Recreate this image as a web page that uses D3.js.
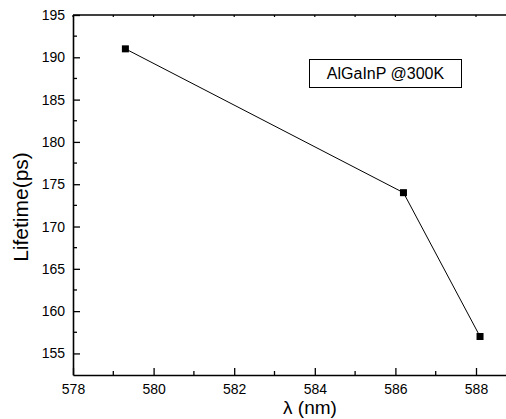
<!DOCTYPE html>
<html>
<head>
<meta charset="utf-8">
<script src="https://cdn.jsdelivr.net/npm/d3@7"></script>
<style>
  body { margin: 0; background: #fff; overflow: hidden; }
  svg { display: block; overflow: hidden; font-family: "Liberation Sans", Arial, sans-serif; }
</style>
</head>
<body>
<div id="chart"></div>
<script>
// data
const wavelength = [579.3, 586.2, 588.1];
const lifetime = [191, 174, 157];
const xTicks = [578, 580, 582, 584, 586, 588];
const yTicks = [155, 160, 165, 170, 175, 180, 185, 190, 195];
const legendText = 'AlGaInP @300K';

let drawChart = function () {
    const w = 506, h = 419;
    const left = 73, top = 15, bottom = 375;

    const svg = d3.select('#chart').append('svg')
        .attr('width', w)
        .attr('height', h);

    // the right edge of the frame lies just past the window
    const x = d3.scaleLinear().domain([578, 589]).range([left, left + 11 * 40.3]);
    const y = d3.scaleLinear().domain([152.45, 195]).range([bottom, top]);

    const minorX = d3.range(578, 589, 1);
    const minorY = d3.range(152.5, 195.1, 2.5);

    // bottom axis
    const xAxis = svg.append('g')
        .attr('transform', `translate(0,${bottom})`)
        .call(d3.axisBottom(x).tickValues(xTicks).tickFormat(d3.format('d'))
            .tickSizeInner(-7).tickSizeOuter(0).tickPadding(9));
    xAxis.select('.domain').attr('stroke-width', 1.6);
    xAxis.selectAll('.tick line').attr('stroke-width', 1.3);
    xAxis.selectAll('text').attr('font-size', 14).attr('fill', '#000');

    svg.append('g')
        .selectAll('line')
        .data(minorX.filter(v => !xTicks.includes(v)))
        .enter()
        .append('line')
        .attr('x1', d => x(d)).attr('x2', d => x(d))
        .attr('y1', bottom).attr('y2', bottom - 4)
        .attr('stroke', '#000').attr('stroke-width', 1.3);

    // top mirror axis
    svg.append('line')
        .attr('x1', left).attr('x2', w)
        .attr('y1', top).attr('y2', top)
        .attr('stroke', '#000').attr('stroke-width', 1.6);
    svg.append('g')
        .selectAll('line')
        .data(minorX)
        .enter()
        .append('line')
        .attr('x1', d => x(d)).attr('x2', d => x(d))
        .attr('y1', top).attr('y2', top + 2)
        .attr('stroke', '#000').attr('stroke-width', 1.2);

    // left axis
    const yAxis = svg.append('g')
        .attr('transform', `translate(${left},0)`)
        .call(d3.axisLeft(y).tickValues(yTicks).tickFormat(d3.format('d'))
            .tickSizeInner(-7).tickSizeOuter(0).tickPadding(8));
    yAxis.select('.domain').attr('stroke-width', 1.6);
    yAxis.selectAll('.tick line').attr('stroke-width', 1.3);
    yAxis.selectAll('text').attr('font-size', 14).attr('fill', '#000');

    svg.append('g')
        .selectAll('line')
        .data(minorY.filter(v => !yTicks.includes(v) && v > 153))
        .enter()
        .append('line')
        .attr('x1', left).attr('x2', left + 4)
        .attr('y1', d => y(d)).attr('y2', d => y(d))
        .attr('stroke', '#000').attr('stroke-width', 1.3);

    // series line and markers
    const pts = wavelength.map((v, i) => [v, lifetime[i]]);
    svg.append('path')
        .datum(pts)
        .attr('d', d3.line().x(d => x(d[0])).y(d => y(d[1])))
        .attr('fill', 'none')
        .attr('stroke', '#000')
        .attr('stroke-width', 1);

    svg.selectAll('rect.pt')
        .data(pts)
        .enter()
        .append('rect')
        .attr('class', 'pt')
        .attr('x', d => x(d[0]) - 3.5)
        .attr('y', d => y(d[1]) - 3.5)
        .attr('width', 7)
        .attr('height', 7)
        .attr('fill', '#000');

    // legend box
    svg.append('rect')
        .attr('x', 309.5).attr('y', 59.5)
        .attr('width', 152).attr('height', 28)
        .attr('fill', '#fff')
        .attr('stroke', '#000')
        .attr('stroke-width', 1);
    svg.append('text')
        .attr('x', 385.5).attr('y', 79)
        .attr('text-anchor', 'middle')
        .attr('font-size', 16)
        .text(legendText);

    // axis titles
    svg.append('text')
        .attr('x', 310).attr('y', 414)
        .attr('text-anchor', 'middle')
        .attr('font-size', 19)
        .text('λ (nm)');

    svg.append('text')
        .attr('transform', 'translate(28,207) rotate(-90)')
        .attr('text-anchor', 'middle')
        .attr('font-size', 21)
        .text('Lifetime(ps)');

    // keep the strip past the plot's right edge blank
    svg.append('rect')
        .attr('x', 500).attr('y', top + 2)
        .attr('width', 6).attr('height', bottom - top - 3)
        .attr('fill', '#fff');
}

drawChart();
</script>
</body>
</html>
